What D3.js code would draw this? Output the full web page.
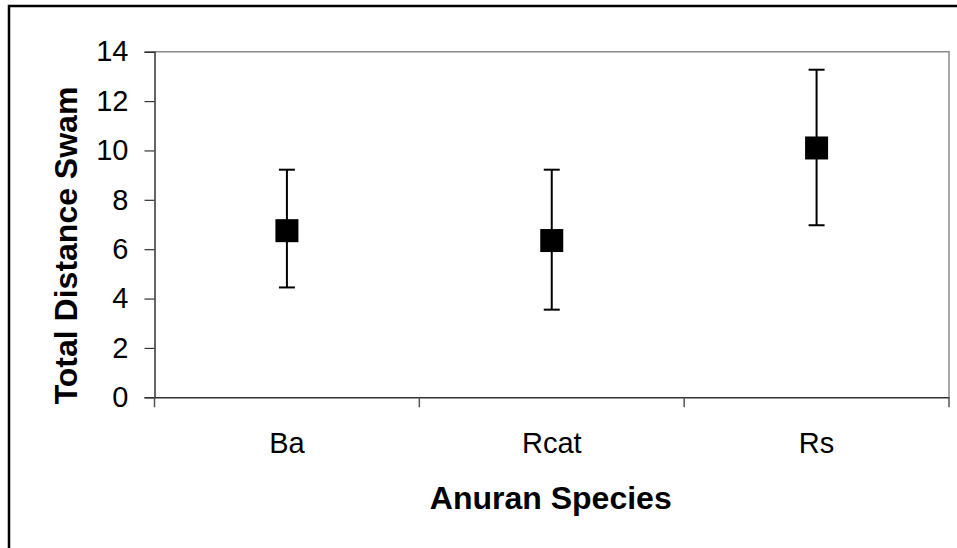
<!DOCTYPE html>
<html><head><meta charset="utf-8">
<script src="https://cdn.jsdelivr.net/npm/d3@7"></script>
<style>html,body{margin:0;padding:0;background:#fff;overflow:hidden}</style>
</head><body>
<svg id="c" width="957" height="548"></svg>
<script>
const categories = ["Ba", "Rcat", "Rs"];
const means = [6.75, 6.35, 10.1];
const upper = [9.22, 9.22, 13.27];
const lower = [4.45, 3.55, 6.97];
const yTicks = [0, 2, 4, 6, 8, 10, 12, 14];
const xTitle = "Anuran Species";
const yTitle = "Total Distance Swam";

const svg = d3.select("#c");
const font = "'Liberation Sans', Arial, sans-serif";
const L = 154.5, R = 949, T = 51.7, B = 397.3;

// outer frame
svg.append("rect").attr("x", 9).attr("y", 6).attr("width", 1000).attr("height", 1000)
  .attr("fill", "none").attr("stroke", "#000").attr("stroke-width", 2.5);

const x = d3.scaleBand().domain(categories).range([L, R]).paddingInner(0).paddingOuter(0);
const y = d3.scaleLinear().domain([0, 14]).range([B, T]);

// plot area border (top & right)
svg.append("path").attr("d", `M${L},${T}H${R}V${B}`).attr("fill", "none")
  .attr("stroke", "#8c8c8c").attr("stroke-width", 1.5);

// y axis
const ya = svg.append("g").attr("transform", `translate(${L},0)`)
  .call(d3.axisLeft(y).tickValues(yTicks).tickSize(10).tickPadding(16).tickFormat(d3.format("d")));
ya.select(".domain").attr("stroke", "#333").attr("stroke-width", 1.5);
ya.selectAll(".tick line").attr("stroke", "#333").attr("stroke-width", 1.2);
ya.selectAll("text").attr("font-family", font).attr("font-size", 29).attr("fill", "#000");

// x axis
const xa = svg.append("g").attr("transform", `translate(0,${B})`)
  .call(d3.axisBottom(x).tickSize(0).tickPadding(35));
xa.select(".domain").attr("stroke", "#333").attr("stroke-width", 1.5);
xa.selectAll("text").attr("font-family", font).attr("font-size", 29).attr("fill", "#000")
  .attr("dy", "0.71em");
// boundary ticks
const bounds = categories.map(c => x(c)).concat([x(categories[categories.length - 1]) + x.bandwidth()]);
svg.append("g").selectAll("line").data(bounds).join("line")
  .attr("x1", d => d).attr("x2", d => d).attr("y1", B).attr("y2", B + 10)
  .attr("stroke", "#555").attr("stroke-width", 1.5);

// error bars
const g = svg.append("g");
const cx = i => x(categories[i]) + x.bandwidth() / 2;
categories.forEach((c, i) => {
  g.append("line").attr("x1", cx(i)).attr("x2", cx(i)).attr("y1", y(upper[i])).attr("y2", y(lower[i]))
    .attr("stroke", "#000").attr("stroke-width", 2);
  [upper[i], lower[i]].forEach(v => {
    g.append("line").attr("x1", cx(i) - 8).attr("x2", cx(i) + 8).attr("y1", y(v)).attr("y2", y(v))
      .attr("stroke", "#000").attr("stroke-width", 2);
  });
  g.append("rect").attr("x", cx(i) - 11.5).attr("y", y(means[i]) - 11.5)
    .attr("width", 23).attr("height", 23).attr("fill", "#000");
});

// titles
svg.append("text").attr("x", (L + R) / 2 - 1).attr("y", 509).attr("text-anchor", "middle")
  .attr("font-family", font).attr("font-size", 32).attr("font-weight", "bold").text(xTitle);
svg.append("text").attr("transform", `translate(77,${(T + B) / 2 + 21}) rotate(-90)`)
  .attr("text-anchor", "middle").attr("font-family", font).attr("font-size", 32)
  .attr("font-weight", "bold").text(yTitle);
</script>
</body></html>
